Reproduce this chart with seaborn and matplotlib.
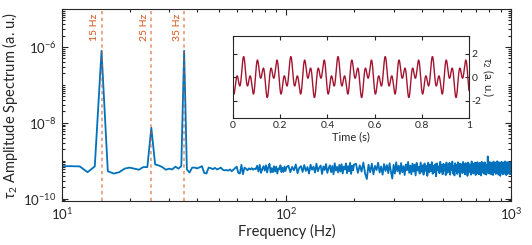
import numpy as np
import matplotlib
matplotlib.use("Agg")
from matplotlib import pyplot as plt
from matplotlib.ticker import LogLocator, NullFormatter
import seaborn as sns

# spectrum, 1 Hz bins from 10 to 100 Hz (units of 1e-10)
freq_low = np.arange(10, 101)
amp_low = [7.2, 7.2, 7.1, 5.0, 7.1, 7900, 5.3, 4.6, 5.0, 6.2,
           6.6, 6.2, 5.8, 6.8, 6.8, 74, 8.0, 7.5, 6.8, 5.8,
           6.2, 5.9, 7.0, 6.2, 7.2, 7900, 5.9, 4.9, 6.6, 6.6,
           6.3, 6.7, 7.2, 4.8, 4.6, 6.6, 6.4, 6.0, 6.5, 5.9,
           6.2, 6.6, 5.8, 5.6, 5.7, 5.5, 5.9, 5.3, 5.8, 6.4,
           7.0, 4.8, 4.6, 7.8, 4.4, 6.6, 6.2, 5.6, 6.3, 5.9,
           6.4, 5.8, 6.2, 6.0, 7.4, 5.2, 7.8, 4.8, 6.0, 7.2,
           5.5, 7.6, 4.9, 6.8, 8.3, 4.9, 6.4, 5.0, 7.2, 5.2,
           7.0, 4.6, 6.3, 5.9, 7.6, 5.0, 6.5, 5.1, 7.0, 5.4,
           6.8]

# 102-200 Hz, every 2 Hz
freq_mid = np.arange(102, 201, 2)
amp_mid = [7.4, 5.0, 6.9, 5.6, 8.0, 4.7, 6.5, 7.2, 5.1, 7.7,
           5.4, 6.8, 4.6, 7.9, 5.8, 7.0, 4.9, 8.4, 5.3, 6.6,
           7.5, 4.5, 7.1, 5.7, 8.2, 4.8, 6.3, 7.6, 5.0, 7.3,
           4.4, 8.6, 5.5, 6.9, 4.9, 7.8, 5.2, 8.1, 4.6, 7.0,
           5.9, 8.5, 4.7, 7.2, 5.3, 8.8, 4.5, 7.4, 5.6, 8.0]

# 204-1000 Hz, every 4 Hz
freq_high = np.arange(204, 1001, 4)
amp_high = [8.3, 4.8, 7.6, 5.2, 9.0, 4.6, 3.3, 7.9, 5.0, 8.4,
            4.4, 7.3, 5.7, 8.9, 4.9, 7.1, 4.3, 8.2, 5.4, 7.7,
            4.7, 8.6, 5.1, 3.4, 7.8, 4.6, 9.1, 5.3, 7.4, 4.5,
            8.7, 5.0, 7.2, 4.2, 8.0, 5.6, 9.3, 4.8, 7.5, 4.4,
            8.4, 5.2, 7.9, 4.1, 8.8, 5.5, 7.0, 4.6, 9.0, 5.1,
            7.6, 4.3, 8.5, 5.4, 7.3, 4.0, 8.9, 4.9, 7.8, 5.3,
            9.2, 4.5, 7.4, 5.0, 8.2, 3.9, 8.6, 5.6, 7.1, 4.7,
            9.4, 5.2, 7.7, 4.4, 8.3, 5.5, 7.9, 4.2, 9.0, 4.8,
            7.5, 5.1, 8.8, 4.3, 8.0, 5.7, 9.5, 4.6, 7.2, 4.1,
            8.6, 5.3, 7.8, 4.5, 9.1, 5.0, 8.1, 3.8, 8.4, 5.4,
            7.6, 4.7, 9.3, 5.2, 8.0, 4.4, 8.7, 5.6, 7.4, 4.0,
            9.0, 4.9, 8.2, 5.3, 7.7, 4.3, 9.6, 5.1, 8.5, 4.6,
            7.9, 5.5, 8.9, 4.2, 8.1, 5.0, 9.2, 4.7, 7.6, 4.4,
            8.8, 5.4, 8.3, 4.1, 9.4, 5.2, 7.8, 4.8, 8.6, 4.5,
            9.1, 5.6, 8.0, 4.3, 7.5, 4.9, 13.0, 5.1, 8.7, 4.6,
            9.3, 5.0, 8.2, 4.4, 8.9, 5.7, 7.7, 4.2, 9.5, 4.9,
            8.4, 5.3, 9.0, 4.5, 8.1, 5.5, 9.7, 4.7, 7.9, 4.3,
            9.2, 5.1, 8.6, 4.0, 8.8, 5.6, 9.4, 4.8, 8.0, 4.4,
            9.0, 5.4, 8.5, 4.6, 9.6, 5.0, 8.3, 4.2, 9.1, 5.2,
            8.7, 4.5, 9.3, 4.9, 8.2, 5.8, 9.0, 4.4, 8.8, 6.2]

marker_freqs = [15, 25, 35]
marker_labels = ["15 Hz", "25 Hz", "35 Hz"]

# inset signal components: frequency (Hz), amplitude, phase (cycles)
comp_freq = [15, 25, 35]
comp_amp = [0.87, 0.0085, 0.87]
comp_phase = [-0.425, 0.1, 0.675]

freq = np.concatenate([freq_low, freq_mid, freq_high])
amp = np.concatenate([amp_low, amp_mid, amp_high]) * 1e-10

t = np.linspace(0, 1, 2001)
sig = sum(a * np.sin(2 * np.pi * (f * t + p)) for f, a, p in zip(comp_freq, comp_amp, comp_phase))

sns.set_style("ticks")
plt.rcParams["font.family"] = ["Lato", "DejaVu Sans"]
plt.rcParams["mathtext.fontset"] = "custom"
plt.rcParams["mathtext.rm"] = "Lato"
plt.rcParams["mathtext.it"] = "Lato:italic"
plt.rcParams["axes.unicode_minus"] = False

dark = "#262626"
blue = "#0072BD"
orange = "#D95319"
red = "#A2142F"

fig = plt.figure(figsize=(5.32, 2.45), dpi=100)
ax = fig.add_axes([0.1165, 0.1796, 0.844, 0.7837])

sns.lineplot(x=freq, y=amp, ax=ax, color=blue, lw=1.3)
ax.set_xscale("log")
ax.set_yscale("log")
ax.set_xlim(10, 1000)
ax.set_ylim(8.7e-11, 1e-5)
ax.set_yticks([1e-10, 1e-8, 1e-6])
ax.yaxis.set_minor_locator(LogLocator(base=10, subs=np.arange(1, 10), numticks=30))
ax.yaxis.set_minor_formatter(NullFormatter())
ax.xaxis.set_minor_locator(LogLocator(base=10, subs=np.arange(2, 10), numticks=30))
ax.xaxis.set_minor_formatter(NullFormatter())

for f, lab in zip(marker_freqs, marker_labels):
    ax.axvline(f, color=orange, lw=1.2, ls=(0, (2, 2)), alpha=0.6)
    ax.annotate(lab, xy=(f, 1), xycoords=("data", "axes fraction"),
                xytext=(-1.5, -3), textcoords="offset points",
                rotation=90, ha="right", va="top", color=orange, fontsize=7.5)

ax.set_xlabel("Frequency (Hz)", fontsize=10.5, color=dark, labelpad=1)
ax.set_ylabel(r"$\tau_2$ Amplitude Spectrum (a. u.)", fontsize=10.5, color=dark, labelpad=2)
ax.tick_params(which="both", direction="in", top=True, right=True, colors=dark, width=0.8)
ax.tick_params(which="major", length=4, labelsize=9.5, pad=4)
ax.tick_params(which="minor", length=2)
for s in ax.spines.values():
    s.set_color(dark)
    s.set_linewidth(0.8)

# inset time trace
ins = fig.add_axes([0.438, 0.518, 0.4436, 0.335])
ins.set_facecolor("white")
sns.lineplot(x=t, y=sig, ax=ins, color=red, lw=1.0)
ins.set_xlim(0, 1)
ins.set_ylim(-3.5, 3.5)
ins.set_xticks([0, 0.2, 0.4, 0.6, 0.8, 1])
ins.set_xticklabels(["0", "0.2", "0.4", "0.6", "0.8", "1"])
ins.set_yticks([-2, 0, 2])
ins.yaxis.tick_right()
ins.yaxis.set_label_position("right")
ins.tick_params(direction="in", top=True, left=True, right=True, colors=dark,
                width=0.8, length=3, labelsize=7.5, pad=2)
ins.set_xlabel("Time (s)", fontsize=8, color=dark, labelpad=1)
ins.set_ylabel(r"$\tau_2$ (a. u.)", fontsize=8, color=dark, rotation=270, labelpad=10)
for s in ins.spines.values():
    s.set_color(dark)
    s.set_linewidth(0.8)

plt.savefig("out.png", dpi=100)
